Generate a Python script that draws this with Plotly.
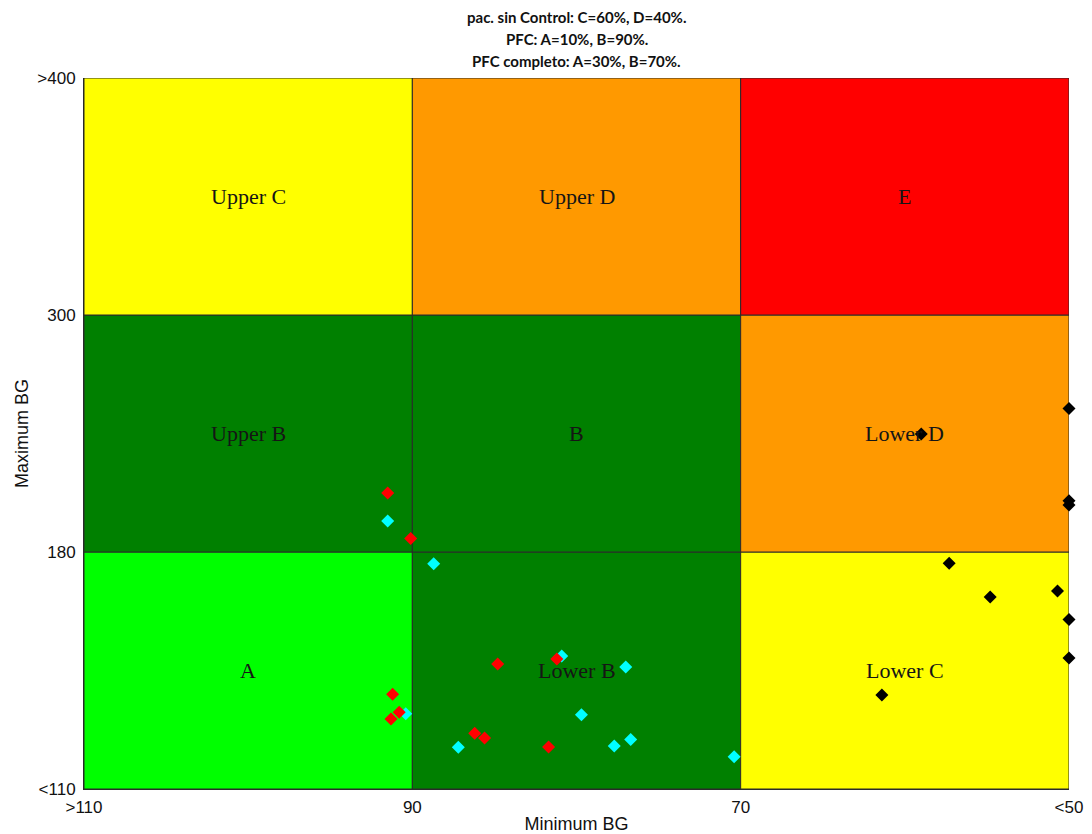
import numpy as np
import plotly.graph_objects as go

# Zone boundaries of the control variability grid (BG in mg/dl)
x_bounds = [110, 90, 70, 50]          # minimum BG, left to right
y_bounds = [110, 180, 300, 400]       # maximum BG, bottom to top
x_tick_text = [">110", "90", "70", "<50"]
y_tick_text = ["<110", "180", "300", ">400"]

# Zone names and colours, rows from bottom to top, columns left to right
zone_labels = [
    ["A", "Lower B", "Lower C"],
    ["Upper B", "B", "Lower D"],
    ["Upper C", "Upper D", "E"],
]
zone_colors = [
    ["#00FF00", "#008000", "#FFFF00"],
    ["#008000", "#008000", "#FF9900"],
    ["#FFFF00", "#FF9900", "#FF0000"],
]

# Patients without control (black)
sin_min = [50.0, 59.0, 50.0, 50.0, 57.3, 54.8, 50.7, 50.0, 50.0, 61.4]
sin_max = [252.6, 239.8, 206.0, 203.8, 176.7, 166.7, 168.5, 160.1, 148.7, 137.8]

# PFC controller (cyan)
pfc_min = [91.5, 88.7, 90.4, 87.2, 80.9, 77.0, 79.7, 77.7, 76.7, 70.4]
pfc_max = [195.7, 176.5, 132.2, 122.3, 149.3, 146.0, 131.9, 122.7, 124.6, 119.5]

# Complete PFC controller (red)
pfcc_min = [91.5, 90.1, 91.2, 90.8, 91.3, 84.8, 86.2, 85.6, 81.2, 81.7]
pfcc_max = [209.9, 186.8, 138.0, 132.7, 130.7, 146.9, 126.5, 125.1, 148.4, 122.4]

title_lines = [
    "pac. sin Control: C=60%, D=40%.",
    "PFC: A=10%, B=90%.",
    "PFC completo: A=30%, B=70%.",
]


def ymap(v):
    """Map maximum BG onto the piecewise-uniform grid rows (0..3)."""
    return np.interp(v, y_bounds, [0, 1, 2, 3])


fig = go.Figure()

# Coloured zones
shapes = []
annotations = []
for r in range(3):
    for c in range(3):
        x0, x1 = x_bounds[c], x_bounds[c + 1]
        shapes.append(dict(
            type="rect", xref="x", yref="y", layer="below",
            x0=x0, x1=x1, y0=r, y1=r + 1,
            fillcolor=zone_colors[r][c],
            line=dict(color="#2a2a2a", width=1),
        ))
        annotations.append(dict(
            x=(x0 + x1) / 2, y=r + 0.5, xref="x", yref="y",
            text=zone_labels[r][c], showarrow=False,
            font=dict(family="Liberation Serif", size=22, color="#151515"),
        ))

marker_base = dict(symbol="diamond", size=10, line=dict(width=0))

fig.add_trace(go.Scatter(
    x=sin_min, y=ymap(sin_max), mode="markers", name="pac. sin Control",
    marker=dict(color="#000000", **marker_base), cliponaxis=False,
))
fig.add_trace(go.Scatter(
    x=pfc_min, y=ymap(pfc_max), mode="markers", name="PFC",
    marker=dict(color="#00FFFF", **marker_base), cliponaxis=False,
))
fig.add_trace(go.Scatter(
    x=pfcc_min, y=ymap(pfcc_max), mode="markers", name="PFC completo",
    marker=dict(color="#FF0000", **marker_base), cliponaxis=False,
))

# Three-line bold title above the grid
for i, line in enumerate(title_lines):
    annotations.append(dict(
        x=0.5, y=1, xref="paper", yref="paper",
        xanchor="center", yanchor="middle",
        yshift=61 - 22 * i, text="<b>%s</b>" % line, showarrow=False,
        font=dict(family="Lato", size=15, color="#111111"),
    ))

fig.update_layout(
    width=1092, height=834,
    margin=dict(l=84, r=23, t=78, b=45),
    paper_bgcolor="white", plot_bgcolor="white",
    showlegend=False,
    shapes=shapes, annotations=annotations,
    font=dict(family="Liberation Sans", size=17, color="#111111"),
)
fig.update_xaxes(
    range=[110, 50], tickvals=x_bounds, ticktext=x_tick_text,
    showgrid=False, zeroline=False, showline=True, linecolor="#2a2a2a",
    ticks="", ticklabelstandoff=3, automargin=False,
    title=dict(text="Minimum BG", standoff=0, font=dict(size=18)),
)
fig.update_yaxes(
    range=[0, 3], tickvals=[0, 1, 2, 3], ticktext=y_tick_text,
    showgrid=False, zeroline=False, showline=True, linecolor="#2a2a2a",
    ticks="", ticklabelstandoff=4, automargin=False,
    title=dict(text="Maximum BG", standoff=4, font=dict(size=18)),
)

fig.write_html("out.html")
